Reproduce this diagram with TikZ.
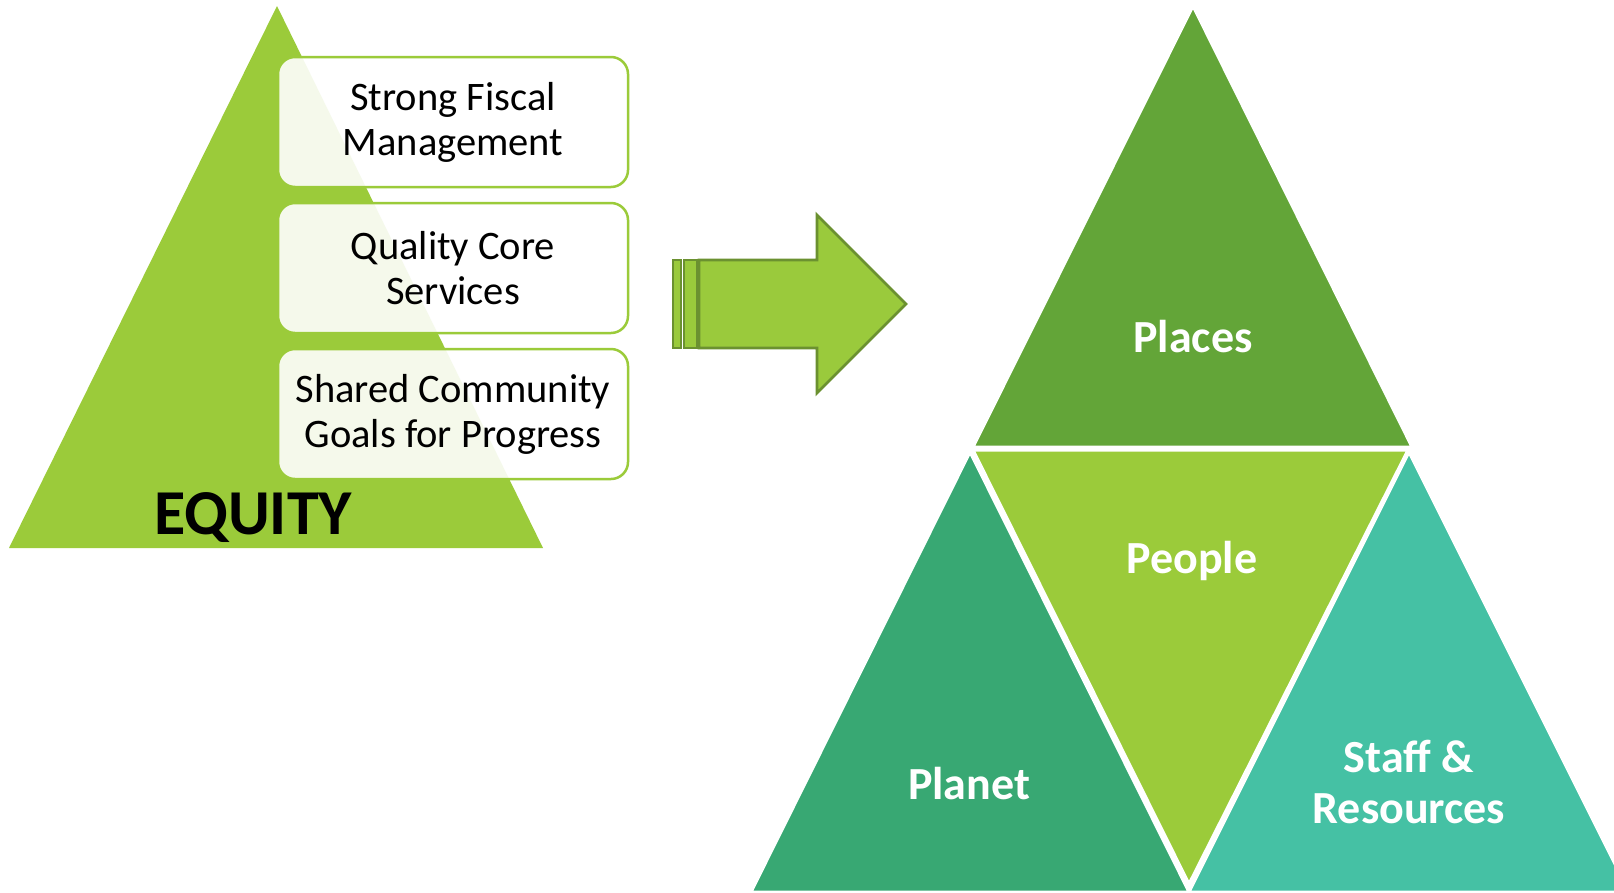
\documentclass[tikz,border=0pt]{standalone}
\usepackage{fontspec}
\setmainfont{Carlito}
\definecolor{lime}{HTML}{9BCB3A}
\definecolor{leaf}{HTML}{63A538}
\definecolor{moss}{HTML}{38A873}
\definecolor{teal}{HTML}{45C1A4}
\definecolor{arrowedge}{HTML}{6B9130}
\definecolor{arrowfill}{HTML}{9ACA3C}

\begin{document}
\begin{tikzpicture}[x=1pt,y=-1pt,
    goal/.style={draw=lime,line width=2.5pt,fill=white,fill opacity=0.9,text opacity=1,
      rounded corners=17pt,minimum width=350pt,minimum height=130pt,align=center,
      font=\fontsize{40.5}{45}\selectfont},
    tag/.style={text=white,align=center,font=\bfseries\fontsize{46}{51}\selectfont},
    piece/.style={draw=white,line width=3pt,line join=miter},
    arrowpart/.style={draw=arrowedge,fill=arrowfill,line width=2.8pt}]
  \clip (0,0) rectangle (1614,892);
  \fill[white] (0,0) rectangle (1614,892);
  % left pyramid
  \fill[lime] (277,6) -- (543,548) -- (9,548) -- cycle;%
  \node[anchor=base,font=\bfseries\fontsize{64}{70}\selectfont] (equity) at (253,534) {EQUITY};%
  \node[goal] (fiscal) at (453,122) {Strong Fiscal\\Management};%
  \node[goal] (core) at (453,268) {Quality Core\\Services};%
  \node[goal] (goals) at (453,414) {Shared Community\\Goals for Progress};%

  % striped arrow
  \draw[arrowpart] (673,260) rectangle (681,348);%
  \draw[arrowpart] (684,260) rectangle (697,348);%
  \draw[arrowpart] (699,260) -- (817,260) -- (817,215) -- (906,304) -- (817,393) -- (817,348) -- (699,348) -- cycle;%

  % right triangles
  \fill[leaf,piece] (1193,6) -- (1412,447) -- (973,447) -- cycle;%
  \fill[lime,piece] (973,450) -- (1408,450) -- (1189,884) -- cycle;%
  \fill[moss,piece] (970,452) -- (1189,892) -- (751,892) -- cycle;%
  \fill[teal,piece] (1409,452) -- (1629,892) -- (1189,892) -- cycle;%

  \node[tag,anchor=base] (places) at (1193,352) {Places};%
  \node[tag,anchor=base] (people) at (1192,573) {People};%
  \node[tag,anchor=base] (planet) at (969,799) {Planet};%
  \node[tag] (staff) at (1409,782) {Staff \&\\Resources};%
\end{tikzpicture}
\end{document}
